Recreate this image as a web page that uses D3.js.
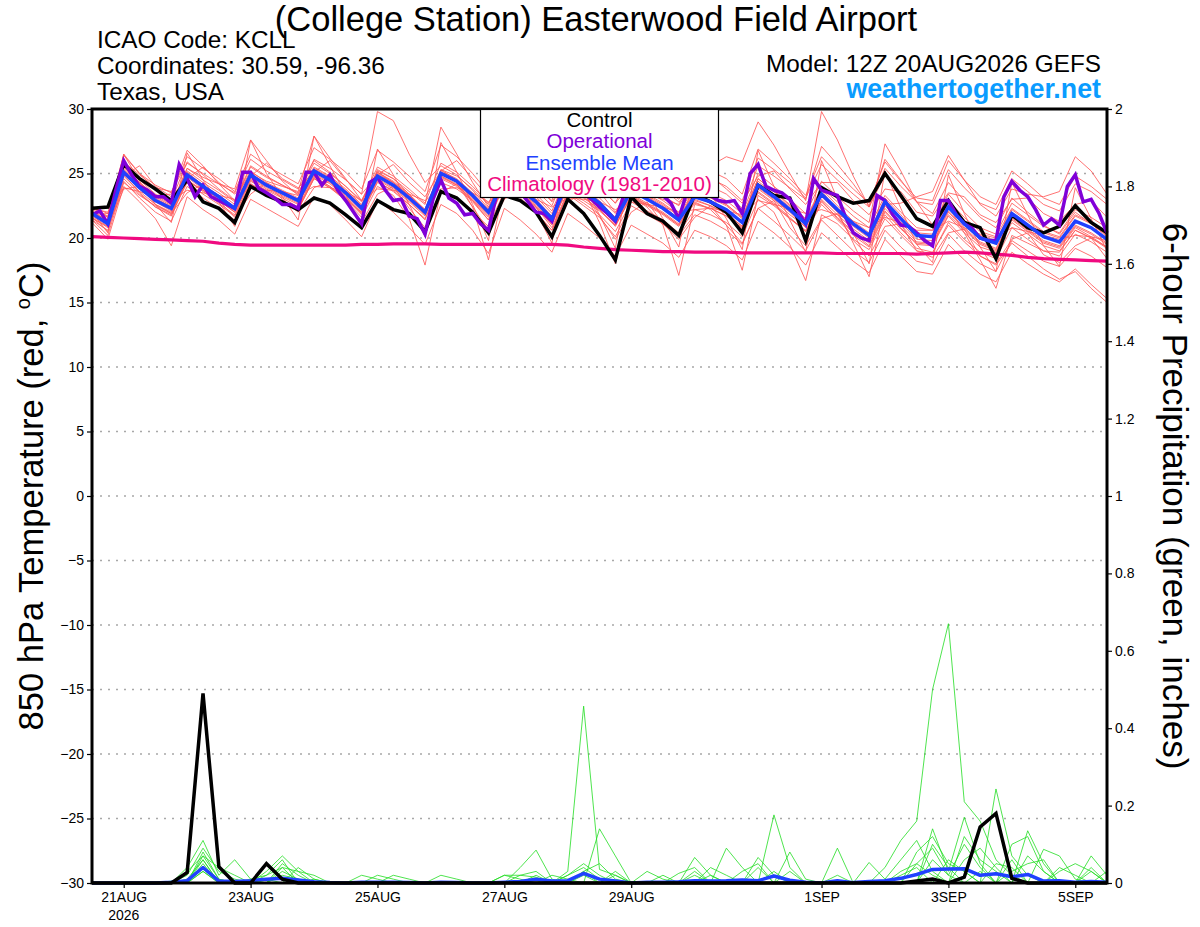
<!DOCTYPE html>
<html>
<head>
<meta charset="utf-8">
<script src="https://cdn.jsdelivr.net/npm/d3@7"></script>
<style>
  body { margin: 0; background: #fff; }
  text { font-family: "Liberation Sans", Arial, Helvetica, sans-serif; }
</style>
</head>
<body>
<svg width="1200" height="927"></svg>
<script>
// Model run start (12Z 20AUG2026), ensemble is 6-hourly, operational 3-hourly
var runTime = Date.UTC(2026, 7, 20, 12);
var ensHours = d3.range(0, 385, 6);
var opHours = d3.range(0, 385, 3);

// X tick dates and labels
var dayTicks = ["2026-08-21", "2026-08-23", "2026-08-25", "2026-08-27", "2026-08-29", "2026-09-01", "2026-09-03", "2026-09-05"];
var dayLabels = ["21AUG", "23AUG", "25AUG", "27AUG", "29AUG", "1SEP", "3SEP", "5SEP"];

// Y tick values
var tempTicks = [-30, -25, -20, -15, -10, -5, 0, 5, 10, 15, 20, 25, 30];
var precipTicks = [0, 0.2, 0.4, 0.6, 0.8, 1, 1.2, 1.4, 1.6, 1.8, 2];
var precipLabels = ["0", "0.2", "0.4", "0.6", "0.8", "1", "1.2", "1.4", "1.6", "1.8", "2"];

// 850 hPa temperature (C)
var control = [22.3, 22.4, 25.7, 24.6, 23.8, 22.9, 24.5, 22.8, 22.3, 21.2,
  24.0, 23.3, 22.8, 22.2, 23.1, 22.7, 21.8, 20.8, 22.9, 22.2,
  21.9, 20.5, 23.6, 23.1, 22.0, 20.4, 23.3, 22.9, 22.0, 20.1,
  23.0, 21.9, 20.2, 18.3, 23.2, 21.9, 21.3, 20.2, 23.4, 22.8,
  22.0, 20.4, 24.1, 23.3, 23.1, 19.8, 23.9, 23.2, 22.7, 22.9,
  25.0, 23.3, 21.5, 20.9, 22.9, 21.2, 20.8, 18.4, 21.8, 20.8,
  20.4, 20.9, 22.5, 21.2, 20.4];

var ensMean = [21.9, 21.1, 25.1, 23.9, 22.9, 22.3, 24.9, 24.0, 23.2, 22.3,
  24.9, 24.1, 23.5, 22.9, 25.2, 24.5, 23.5, 22.3, 24.8, 24.1,
  23.1, 22.0, 25.0, 24.4, 23.3, 22.0, 24.6, 23.8, 22.8, 21.5,
  24.4, 23.6, 22.7, 21.4, 23.7, 23.0, 22.3, 21.4, 23.2, 22.8,
  22.2, 21.2, 24.1, 23.2, 22.2, 21.1, 23.4, 22.2, 21.1, 20.2,
  22.8, 21.5, 20.2, 20.1, 22.4, 21.1, 20.0, 19.6, 21.9, 21.0,
  20.1, 19.7, 21.3, 20.8, 19.9];

var climatology = [20.1, 20.05, 20.0, 19.95, 19.9, 19.85, 19.8, 19.75, 19.6, 19.5,
  19.45, 19.45, 19.45, 19.45, 19.45, 19.45, 19.45, 19.5, 19.5, 19.55,
  19.55, 19.55, 19.5, 19.5, 19.5, 19.5, 19.5, 19.5, 19.5, 19.5,
  19.45, 19.3, 19.2, 19.1, 19.05, 19.0, 18.95, 18.95, 18.9, 18.9,
  18.9, 18.85, 18.85, 18.85, 18.85, 18.85, 18.85, 18.8, 18.8, 18.8,
  18.8, 18.8, 18.75, 18.8, 18.85, 18.9, 18.85, 18.75, 18.65, 18.5,
  18.4, 18.35, 18.3, 18.25, 18.2];

// operational run, 3-hourly
var operational = [21.8, 22.1, 21.1, 23.7, 26.0, 24.9, 24.0, 23.7, 23.2, 23.2,
  22.7, 25.7, 24.6, 23.2, 24.1, 23.2, 22.9, 22.6, 22.3, 25.1,
  25.1, 23.85, 23.5, 23.1, 22.6, 22.6, 22.3, 25.1, 25.1, 24.1,
  24.9, 23.7, 22.9, 22.0, 21.1, 24.3, 24.7, 23.7, 22.9, 23.0,
  21.7, 21.5, 20.3, 23.0, 24.5, 23.1, 22.7, 21.8, 21.9, 21.1,
  20.6, 23.3, 24.6, 24.2, 23.6, 22.8, 22.0, 21.9, 21.3, 23.2,
  24.3, 24.0, 23.5, 23.0, 22.4, 21.9, 21.3, 23.2, 24.5, 24.2,
  23.8, 23.5, 23.3, 22.7, 21.5, 23.5, 24.0, 23.6, 23.3, 22.9,
  22.8, 22.9, 21.9, 25.0, 25.7, 24.0, 23.7, 23.5, 23.0, 22.1,
  21.1, 24.6, 23.7, 23.5, 23.3, 21.65, 20.4, 20.0, 19.8, 23.3,
  22.9, 21.8, 21.0, 20.9, 20.4, 19.8, 19.4, 22.9, 22.9, 21.8,
  21.1, 20.75, 20.0, 19.8, 19.8, 23.2, 24.4, 23.7, 23.2, 22.2,
  21.0, 21.5, 21.0, 24.0, 24.9, 22.8, 23.0, 21.9, 20.4];

// ensemble members, 850 hPa temperature (one row per day, 00Z..18Z)
var member01 = [22.4, 21.9,
  26.4, 25.0, 24.1, 23.5, 26.3, 25.4, 24.6, 23.6, 26.5, 25.6, 24.9, 24.2, 27.0, 26.1, 25.1, 23.8,
  26.8, 25.9, 24.8, 23.6, 27.2, 26.3, 25.0, 23.5, 26.8, 25.9, 24.7, 23.2, 26.6, 25.7, 24.6, 23.1,
  26.0, 25.2, 24.5, 23.4, 25.8, 25.2, 24.6, 23.4, 26.9, 25.8, 24.6, 23.3, 26.3, 25.0, 23.8, 22.7,
  25.9, 24.4, 23.1, 22.9, 26.0, 24.5, 23.2, 22.6, 25.2, 24.2, 23.1, 22.6, 24.8, 24.0, 23.0];
var member02 = [21.2, 19.9,
  24.0, 22.8, 21.5, 19.4, 23.2, 22.2, 21.4, 20.3, 23.0, 22.3, 21.6, 20.9, 23.2, 22.6, 21.4, 20.1,
  22.9, 22.0, 20.8, 19.5, 22.6, 21.9, 20.6, 18.8, 22.3, 21.4, 20.3, 18.9, 21.9, 21.0, 20.0, 18.6,
  21.0, 20.3, 19.6, 18.5, 20.6, 20.1, 19.4, 18.3, 21.3, 20.4, 19.3, 17.9, 20.4, 19.3, 18.2, 17.3,
  19.9, 18.6, 17.4, 17.2, 19.5, 18.3, 17.2, 16.6, 18.9, 18.0, 17.2, 16.6, 17.6, 16.4, 15.3];
var member03 = [22.5, 21.6,
  25.9, 24.9, 23.9, 23.6, 25.8, 25.0, 24.2, 23.5, 26.1, 25.2, 24.5, 23.8, 26.0, 25.1, 24.0, 22.8,
  25.1, 24.3, 23.2, 21.9, 24.8, 24.1, 22.9, 21.4, 24.0, 23.1, 22.0, 20.6, 23.4, 22.5, 21.6, 20.1,
  22.5, 21.8, 21.1, 20.2, 21.8, 21.3, 20.6, 19.5, 22.3, 21.3, 20.2, 19.0, 21.4, 20.2, 19.0, 18.1,
  20.6, 19.3, 18.2, 17.9, 20.3, 19.0, 18.0, 17.4, 19.8, 19.0, 18.2, 17.8, 19.2, 18.6, 17.7];
var member04 = [21.4, 20.6,
  24.4, 23.1, 22.0, 21.3, 24.0, 23.1, 22.3, 21.4, 24.2, 23.5, 22.8, 22.2, 24.6, 23.9, 23.0, 22.0,
  24.7, 24.1, 23.2, 22.2, 25.3, 24.8, 23.8, 22.6, 25.4, 24.7, 23.7, 22.5, 25.5, 24.8, 23.9, 22.7,
  25.2, 24.6, 23.9, 23.0, 25.0, 24.6, 24.0, 22.9, 26.2, 25.3, 24.3, 23.1, 25.7, 24.5, 23.4, 22.4,
  25.4, 24.0, 22.8, 22.6, 25.3, 23.9, 22.7, 22.2, 24.6, 23.6, 22.6, 22.1, 24.2, 23.6, 22.6];
var member05 = [22.0, 20.4,
  26.5, 24.4, 22.6, 21.2, 26.6, 24.5, 22.8, 20.9, 27.6, 25.0, 23.2, 21.4, 27.9, 25.6, 23.4, 20.8,
  26.9, 24.9, 22.6, 20.1, 27.4, 25.1, 22.6, 19.8, 26.8, 24.5, 22.0, 19.6, 26.5, 24.1, 21.8, 19.2,
  25.9, 23.6, 21.5, 19.3, 25.4, 23.4, 21.5, 19.1, 26.8, 24.0, 21.4, 18.9, 26.0, 23.0, 20.4, 18.0,
  25.2, 22.3, 19.5, 18.1, 24.9, 21.9, 19.3, 17.4, 24.3, 21.8, 19.4, 17.8, 23.9, 21.5, 19.0];
var member06 = [21.8, 21.9,
  23.9, 23.6, 23.2, 22.9, 23.7, 23.5, 23.3, 23.0, 23.9, 23.7, 23.6, 23.3, 24.0, 23.9, 23.6, 22.9,
  23.8, 23.7, 23.4, 22.9, 23.8, 23.9, 23.5, 22.8, 23.6, 23.3, 23.0, 22.4, 23.1, 23.0, 22.8, 22.2,
  22.8, 22.6, 22.4, 22.0, 22.2, 22.3, 22.1, 21.8, 22.9, 22.6, 22.3, 21.9, 22.2, 21.8, 21.3, 20.8,
  21.6, 21.2, 20.6, 20.6, 21.3, 20.8, 20.3, 20.0, 20.8, 20.5, 20.2, 19.9, 20.2, 20.1, 19.8];
var member07 = [21.9, 21.3,
  25.6, 24.3, 23.3, 22.6, 25.4, 24.5, 23.7, 22.8, 25.5, 24.7, 24.1, 23.4, 26.1, 25.4, 24.5, 23.4,
  29.8, 29.1, 26.5, 24.3, 25.6, 24.9, 23.7, 22.3, 24.9, 24.0, 22.9, 21.5, 24.7, 23.8, 22.9, 21.5,
  23.9, 23.2, 22.5, 21.5, 23.6, 23.2, 22.6, 21.6, 24.6, 23.6, 22.5, 21.4, 23.8, 22.5, 21.3, 20.4,
  23.1, 21.8, 20.4, 20.3, 22.8, 21.4, 20.2, 19.8, 22.2, 21.3, 20.4, 20.0, 21.7, 21.1, 20.2];
var member08 = [21.6, 20.8,
  24.8, 23.6, 22.6, 22.0, 24.5, 23.7, 22.9, 22.0, 24.6, 23.8, 23.2, 22.6, 24.9, 24.2, 23.2, 22.0,
  24.5, 23.8, 22.8, 21.7, 24.7, 24.1, 23.0, 21.7, 24.3, 23.5, 22.5, 21.2, 24.1, 23.3, 22.4, 21.1,
  23.9, 23.4, 23.0, 22.6, 25.0, 25.6, 26.3, 25.9, 29.0, 27.2, 25.0, 22.9, 29.8, 27.6, 24.8, 22.4,
  24.9, 23.1, 21.4, 20.9, 23.4, 22.0, 20.8, 20.3, 22.7, 21.8, 20.9, 20.4, 22.2, 21.6, 20.8];
var member09 = [21.8, 21.1,
  25.3, 24.1, 23.1, 22.4, 25.4, 24.7, 24.2, 23.8, 27.6, 26.0, 24.4, 23.3, 25.5, 24.8, 23.8, 22.6,
  25.2, 24.6, 23.6, 22.6, 28.6, 26.5, 24.3, 22.4, 25.0, 24.2, 23.2, 21.9, 24.6, 23.7, 21.2, 18.0,
  23.2, 22.6, 21.9, 21.0, 22.8, 22.2, 21.0, 17.5, 23.3, 22.5, 21.5, 20.6, 23.0, 21.8, 20.7, 19.8,
  22.3, 21.0, 19.7, 19.6, 22.0, 20.7, 19.6, 19.1, 21.5, 20.6, 19.7, 19.3, 20.9, 20.3, 19.5];
var member10 = [21.6, 20.5,
  24.6, 23.4, 22.4, 21.8, 24.3, 23.4, 22.6, 21.7, 24.2, 23.4, 22.8, 22.2, 24.6, 23.9, 22.9, 21.6,
  24.0, 23.3, 21.5, 17.9, 23.6, 23.2, 22.0, 20.9, 23.6, 22.9, 21.9, 20.6, 23.5, 22.7, 21.8, 20.5,
  22.8, 22.1, 21.4, 20.4, 22.2, 21.8, 21.2, 20.1, 23.0, 22.0, 19.5, 16.7, 21.8, 21.1, 19.9, 19.1,
  21.5, 20.2, 19.0, 18.8, 21.2, 19.9, 18.9, 18.4, 20.8, 19.9, 19.0, 18.6, 20.3, 19.7, 18.9];
var member11 = [22.0, 21.2,
  25.4, 24.2, 23.2, 22.5, 25.2, 24.3, 23.5, 22.6, 25.1, 24.4, 24.0, 23.6, 27.9, 26.2, 24.6, 22.9,
  25.1, 24.4, 23.4, 22.2, 25.3, 24.5, 22.4, 18.3, 24.0, 23.4, 22.4, 21.0, 24.0, 23.2, 22.2, 21.0,
  23.2, 22.4, 21.0, 17.1, 22.6, 22.3, 21.7, 20.8, 23.8, 22.9, 21.8, 20.9, 23.2, 22.0, 20.9, 20.0,
  22.5, 21.2, 19.9, 19.8, 22.1, 20.8, 19.7, 19.2, 21.6, 20.7, 19.8, 19.4, 21.0, 20.4, 19.6];
var member12 = [22.2, 21.6,
  25.8, 24.5, 23.4, 22.7, 25.1, 24.1, 23.3, 22.4, 25.0, 24.2, 23.6, 23.0, 25.4, 24.7, 23.7, 22.5,
  25.0, 24.3, 23.3, 22.2, 25.2, 24.6, 23.5, 22.2, 24.8, 24.0, 23.0, 21.7, 24.6, 23.8, 22.8, 21.6,
  24.0, 23.3, 22.6, 21.7, 23.5, 23.1, 22.5, 21.5, 24.4, 23.4, 22.4, 21.3, 23.7, 22.1, 19.6, 17.0,
  22.6, 22.7, 23.2, 23.6, 26.4, 24.5, 22.6, 21.7, 23.8, 23.4, 23.2, 23.6, 26.3, 25.2, 23.4];
var member13 = [22.3, 21.7,
  26.5, 25.0, 23.8, 22.9, 25.9, 24.9, 23.8, 22.9, 25.6, 24.8, 24.1, 23.5, 25.8, 25.0, 24.0, 22.9,
  25.5, 24.8, 23.8, 22.7, 25.8, 25.1, 24.0, 22.7, 25.2, 24.4, 23.4, 22.1, 25.0, 24.1, 23.1, 21.9,
  24.3, 23.6, 22.9, 22.0, 23.9, 23.5, 22.9, 21.9, 25.0, 24.0, 23.0, 21.9, 24.4, 23.2, 22.1, 21.2,
  27.3, 25.2, 22.8, 21.0, 22.5, 20.4, 18.3, 16.1, 20.2, 19.6, 19.0, 18.9, 20.6, 20.0, 19.3];
var member14 = [22.0, 21.4,
  25.5, 24.3, 23.3, 23.4, 26.8, 25.6, 24.2, 22.9, 25.2, 24.3, 23.7, 23.1, 25.3, 24.6, 23.6, 22.4,
  24.9, 24.3, 23.3, 22.0, 25.1, 24.5, 23.4, 22.1, 25.8, 25.0, 24.0, 22.9, 26.5, 25.2, 23.6, 22.0,
  24.1, 23.4, 22.7, 21.8, 23.7, 23.2, 22.6, 21.6, 24.6, 23.6, 22.6, 21.5, 23.9, 22.8, 21.7, 20.8,
  23.3, 22.0, 20.8, 20.6, 22.9, 21.6, 20.5, 20.1, 22.3, 21.4, 20.5, 20.1, 21.8, 21.2, 20.4];
var member15 = [21.9, 21.0,
  25.0, 23.8, 22.8, 22.1, 24.7, 23.8, 23.0, 22.1, 24.7, 23.9, 23.3, 22.7, 25.0, 24.3, 23.3, 22.1,
  24.6, 23.9, 22.9, 21.8, 24.8, 24.2, 23.1, 21.8, 24.4, 23.6, 22.6, 21.3, 24.2, 23.4, 22.5, 21.2,
  23.4, 22.7, 22.0, 21.1, 22.9, 22.5, 21.9, 20.9, 23.6, 22.7, 21.6, 20.5, 22.6, 21.4, 20.2, 19.3,
  21.8, 20.4, 19.2, 18.9, 21.0, 19.7, 18.6, 17.9, 19.6, 18.6, 17.6, 16.8, 17.4, 16.1, 15.0];
var member16 = [21.5, 20.9,
  23.8, 24.0, 22.6, 21.9, 23.5, 24.2, 22.9, 21.6, 23.4, 24.3, 23.0, 22.0, 23.9, 24.4, 22.8, 21.2,
  23.4, 24.0, 22.3, 20.8, 23.5, 24.2, 22.4, 20.6, 23.0, 23.8, 21.9, 20.1, 22.8, 23.5, 21.7, 19.9,
  22.0, 22.8, 21.1, 19.9, 21.6, 22.5, 21.0, 19.6, 22.3, 22.9, 20.8, 19.4, 21.5, 21.9, 19.8, 18.6,
  20.9, 21.1, 19.0, 18.5, 20.4, 20.7, 18.6, 18.0, 19.9, 20.4, 18.7, 18.1, 19.4, 20.0, 18.4];
var member17 = [22.3, 22.0,
  24.8, 25.6, 24.0, 23.2, 24.6, 25.5, 24.3, 23.4, 24.8, 25.8, 24.6, 23.9, 25.1, 26.0, 24.5, 23.4,
  24.9, 25.7, 24.3, 23.2, 25.2, 26.0, 24.6, 23.2, 24.8, 25.5, 24.1, 22.8, 24.7, 25.3, 24.0, 22.7,
  24.2, 24.9, 23.8, 22.8, 23.9, 24.8, 23.8, 22.7, 24.8, 25.2, 23.8, 22.6, 24.3, 24.3, 22.9, 21.8,
  23.8, 23.6, 22.0, 21.7, 23.5, 23.2, 21.8, 21.2, 23.0, 23.1, 21.9, 21.3, 22.6, 22.9, 21.6];
var member18 = [21.7, 20.9,
  24.9, 23.5, 22.4, 21.7, 24.5, 23.6, 22.7, 21.8, 24.4, 23.7, 23.1, 22.4, 24.8, 24.0, 23.1, 21.9,
  24.4, 23.6, 22.6, 21.4, 24.6, 24.0, 22.8, 21.4, 24.2, 23.4, 22.4, 20.8, 23.6, 22.9, 22.1, 21.0,
  23.3, 22.6, 21.9, 21.0, 23.0, 22.5, 21.9, 20.9, 23.9, 23.0, 22.0, 20.8, 22.9, 21.5, 20.4, 19.4,
  22.0, 20.7, 19.6, 19.5, 21.8, 20.6, 19.5, 19.0, 21.4, 20.5, 19.6, 19.2, 20.8, 20.1, 19.3];
var member19 = [22.1, 21.3,
  25.2, 24.0, 23.0, 22.4, 25.0, 24.1, 23.3, 22.4, 25.0, 24.2, 23.6, 23.0, 25.3, 24.6, 23.6, 22.4,
  25.3, 24.6, 23.4, 22.0, 25.1, 24.5, 23.4, 22.1, 24.7, 23.9, 22.9, 21.6, 24.5, 23.7, 22.8, 21.6,
  24.2, 23.8, 23.3, 22.5, 24.4, 24.0, 23.4, 22.3, 25.6, 24.8, 23.9, 23.0, 27.1, 25.7, 24.2, 22.5,
  26.1, 24.5, 22.8, 21.9, 24.3, 22.9, 21.6, 20.8, 23.1, 22.0, 21.0, 20.3, 22.0, 21.1, 20.1];
var member20 = [21.4, 20.2,
  24.3, 23.3, 22.5, 21.9, 24.4, 23.7, 22.9, 22.0, 24.5, 23.6, 22.9, 22.3, 24.7, 24.0, 23.0, 21.8,
  24.3, 23.7, 22.6, 21.5, 24.3, 23.8, 22.9, 21.6, 24.1, 23.3, 22.3, 21.1, 23.9, 23.1, 22.2, 20.9,
  23.2, 22.5, 21.8, 20.9, 22.7, 22.3, 21.7, 20.7, 23.5, 22.6, 21.5, 20.5, 22.8, 21.6, 20.5, 19.6,
  22.1, 20.8, 19.5, 19.4, 21.7, 20.4, 19.3, 18.9, 21.2, 20.3, 19.4, 19.0, 20.6, 20.0, 19.2];
var tempMembers = [member01, member02, member03, member04, member05, member06, member07, member08, member09, member10,
  member11, member12, member13, member14, member15, member16, member17, member18, member19, member20];

// 6-hour precipitation (inches)
var precipControl = [0, 0, 0, 0, 0, 0, 0.027, 0.49, 0.042, 0,
  0, 0.05, 0.01, 0, 0, 0, 0, 0, 0, 0,
  0, 0, 0, 0, 0, 0, 0, 0, 0, 0,
  0, 0, 0, 0, 0, 0, 0, 0, 0, 0,
  0, 0, 0, 0, 0, 0, 0, 0, 0, 0,
  0, 0, 0.005, 0.01, 0, 0.015, 0.145, 0.18, 0.012, 0,
  0, 0, 0, 0, 0];
var precipMean = [0, 0, 0, 0, 0, 0.002, 0.006, 0.04, 0.005, 0.004,
  0.006, 0.01, 0.012, 0.008, 0.003, 0.001, 0, 0.002, 0.002, 0.002,
  0.001, 0, 0.002, 0.001, 0, 0, 0.002, 0.004, 0.01, 0.005,
  0.006, 0.025, 0.01, 0.005, 0, 0.002, 0.002, 0.003, 0.006, 0.005,
  0.006, 0.008, 0.006, 0.018, 0.007, 0.002, 0, 0.006, 0.001, 0.004,
  0.006, 0.012, 0.022, 0.035, 0.036, 0.037, 0.02, 0.024, 0.016, 0.022,
  0.005, 0.006, 0.002, 0.004, 0.002];
var pmember01 = [0, 0, 0, 0, 0, 0, 0, 0.03, 0, 0,
  0, 0, 0, 0, 0, 0, 0, 0, 0, 0,
  0, 0, 0, 0, 0, 0, 0, 0, 0, 0,
  0, 0.02, 0, 0, 0, 0, 0, 0, 0, 0,
  0, 0, 0, 0, 0, 0, 0, 0, 0, 0,
  0.04, 0.11, 0.16, 0.5, 0.67, 0.21, 0.16, 0.06, 0.02, 0,
  0, 0, 0, 0, 0];
var pmember02 = [0, 0, 0, 0, 0, 0, 0, 0.05, 0, 0,
  0, 0.02, 0.04, 0, 0, 0, 0, 0, 0, 0,
  0, 0, 0, 0, 0, 0, 0, 0, 0.01, 0,
  0.03, 0.457, 0.035, 0.02, 0, 0, 0, 0, 0.02, 0,
  0, 0, 0, 0.176, 0.04, 0, 0, 0, 0, 0,
  0, 0, 0, 0, 0, 0, 0, 0.243, 0.07, 0.02,
  0, 0, 0, 0, 0];
var pmember03 = [0, 0, 0, 0, 0, 0, 0.04, 0.11, 0.02, 0.06,
  0.01, 0, 0, 0.04, 0.01, 0, 0, 0, 0, 0,
  0, 0, 0, 0, 0, 0, 0, 0.04, 0.085, 0.01,
  0, 0, 0.14, 0.07, 0, 0, 0, 0, 0, 0,
  0.09, 0.04, 0, 0, 0, 0, 0, 0, 0, 0,
  0, 0, 0, 0.14, 0.03, 0.17, 0.05, 0, 0, 0.135,
  0.05, 0, 0, 0, 0];
var pmember04 = [0, 0, 0, 0, 0, 0, 0, 0.08, 0.01, 0,
  0, 0.03, 0.07, 0.03, 0, 0, 0, 0, 0.02, 0.01,
  0, 0, 0, 0, 0, 0, 0, 0, 0, 0,
  0.02, 0.04, 0.01, 0, 0, 0, 0, 0, 0.066, 0.02,
  0, 0, 0.066, 0.02, 0, 0, 0, 0, 0, 0,
  0, 0, 0.05, 0.09, 0.02, 0.1, 0.04, 0, 0, 0,
  0.087, 0.07, 0.01, 0, 0];
var pmember05 = [0, 0, 0, 0, 0, 0, 0.03, 0.07, 0.01, 0,
  0, 0, 0.05, 0.02, 0, 0, 0, 0, 0, 0,
  0, 0, 0.02, 0.01, 0, 0, 0.02, 0.02, 0.03, 0,
  0, 0, 0, 0, 0, 0.03, 0.01, 0, 0, 0,
  0, 0, 0, 0, 0, 0, 0, 0.09, 0, 0,
  0, 0, 0, 0.06, 0.02, 0, 0, 0, 0.1, 0.12,
  0.03, 0, 0, 0.07, 0.02];
var pmember06 = [0, 0, 0, 0, 0, 0, 0, 0.06, 0, 0,
  0.01, 0.02, 0.06, 0, 0, 0, 0, 0.02, 0.01, 0,
  0, 0, 0, 0, 0, 0, 0, 0, 0, 0.02,
  0.01, 0, 0, 0, 0, 0, 0, 0.025, 0.04, 0,
  0, 0.03, 0.05, 0, 0.08, 0.01, 0, 0, 0, 0.053,
  0.01, 0.06, 0.11, 0.03, 0, 0.06, 0.09, 0.04, 0, 0,
  0, 0.03, 0.05, 0.03, 0];
var pmember07 = [0, 0, 0, 0, 0, 0.005, 0, 0.03, 0, 0,
  0, 0, 0.02, 0.01, 0, 0, 0, 0, 0, 0.02,
  0.01, 0, 0, 0, 0, 0, 0, 0, 0.02, 0,
  0, 0, 0, 0.03, 0, 0, 0, 0, 0, 0.04,
  0.02, 0, 0, 0, 0, 0, 0, 0, 0, 0,
  0, 0.03, 0.05, 0.02, 0, 0, 0, 0.05, 0.04, 0,
  0, 0, 0, 0.04, 0];
var pmember08 = [0, 0, 0, 0, 0, 0, 0, 0.04, 0, 0,
  0, 0, 0, 0, 0.01, 0, 0, 0, 0, 0,
  0, 0, 0, 0, 0, 0, 0.02, 0.01, 0, 0,
  0, 0.03, 0, 0, 0, 0, 0.02, 0, 0, 0,
  0, 0, 0, 0, 0, 0, 0, 0, 0, 0,
  0, 0, 0, 0, 0.06, 0.03, 0, 0, 0, 0.07,
  0.03, 0, 0, 0, 0.03];
var pmember09 = [0, 0, 0, 0, 0, 0, 0.02, 0.09, 0.03, 0.01,
  0, 0, 0.03, 0.01, 0, 0, 0, 0, 0, 0,
  0, 0, 0, 0, 0, 0, 0, 0, 0, 0,
  0.02, 0.05, 0.02, 0, 0, 0, 0, 0, 0.03, 0,
  0, 0, 0.04, 0, 0, 0, 0, 0, 0, 0,
  0, 0, 0.08, 0.12, 0.05, 0.03, 0, 0, 0.03, 0.05,
  0.06, 0, 0, 0, 0];
var pmember10 = [0, 0, 0, 0, 0, 0, 0, 0.07, 0.04, 0.02,
  0, 0.01, 0, 0, 0, 0, 0, 0, 0, 0,
  0, 0, 0, 0, 0, 0, 0, 0.02, 0.015, 0,
  0, 0, 0, 0.02, 0, 0, 0, 0, 0, 0,
  0, 0, 0, 0.03, 0, 0, 0, 0.02, 0, 0,
  0, 0, 0, 0.1, 0.04, 0, 0.03, 0, 0.06, 0,
  0, 0.04, 0.02, 0, 0];
var pmember11 = [0, 0, 0, 0, 0, 0, 0.01, 0.06, 0, 0,
  0, 0, 0.04, 0.03, 0.02, 0, 0, 0, 0, 0,
  0, 0, 0, 0, 0, 0, 0, 0, 0, 0,
  0, 0.03, 0.05, 0.01, 0, 0, 0, 0, 0, 0.02,
  0, 0, 0, 0, 0.03, 0, 0, 0, 0, 0,
  0, 0.02, 0.04, 0, 0, 0.12, 0.06, 0.03, 0, 0,
  0, 0, 0, 0.03, 0];
var precipMembers = [pmember01, pmember02, pmember03, pmember04, pmember05, pmember06,
  pmember07, pmember08, pmember09, pmember10, pmember11];

// Margin, width, and height
var margin = { top: 109, right: 93, bottom: 44, left: 92 };
var width = 1200 - margin.left - margin.right;
var height = 927 - margin.top - margin.bottom;

var ensTimes = ensHours.map(function(h) { return new Date(runTime + h * 3600000); });
var opTimes = opHours.map(function(h) { return new Date(runTime + h * 3600000); });

var xScale = d3.scaleUtc()
  .domain([ensTimes[0], ensTimes[ensTimes.length - 1]])
  .range([0, width]);
var yTemp = d3.scaleLinear().domain([-30, 30]).range([height, 0]);
var yPrecip = d3.scaleLinear().domain([0, 2]).range([height, 0]);

var svgRoot = d3.select("svg");
var svg = svgRoot.append("g")
  .attr("transform", "translate(" + margin.left + "," + margin.top + ")");

// Gridlines (dotted, at temperature ticks)
svg.append("g")
  .attr("class", "grid")
  .selectAll("line")
  .data(tempTicks.slice(1, -1))
  .enter()
  .append("line")
  .attr("x1", 0)
  .attr("x2", width)
  .attr("y1", function(d) { return yTemp(d); })
  .attr("y2", function(d) { return yTemp(d); })
  .attr("stroke", "#a8a8a8")
  .attr("stroke-width", 1.5)
  .attr("stroke-dasharray", "2,6");

var tempLine = d3.line()
  .x(function(d, i) { return xScale(ensTimes[i]); })
  .y(function(d) { return yTemp(d); });
var opLine = d3.line()
  .x(function(d, i) { return xScale(opTimes[i]); })
  .y(function(d) { return yTemp(d); });
var precipLine = d3.line()
  .x(function(d, i) { return xScale(ensTimes[i]); })
  .y(function(d) { return yPrecip(d); });

// Ensemble members (thin red)
svg.append("g")
  .selectAll("path")
  .data(tempMembers)
  .enter()
  .append("path")
  .attr("d", tempLine)
  .attr("fill", "none")
  .attr("stroke", "#ff5a5a")
  .attr("stroke-width", 0.85);

// Precip members (thin green)
svg.append("g")
  .selectAll("path")
  .data(precipMembers)
  .enter()
  .append("path")
  .attr("d", precipLine)
  .attr("fill", "none")
  .attr("stroke", "#22dd22")
  .attr("stroke-width", 0.8);

svg.append("path")
  .attr("d", precipLine(precipMean))
  .attr("fill", "none")
  .attr("stroke", "#2040ff")
  .attr("stroke-width", 3.5)
  .attr("stroke-linejoin", "round");

svg.append("path")
  .attr("d", precipLine(precipControl))
  .attr("fill", "none")
  .attr("stroke", "#000")
  .attr("stroke-width", 3.5);

// Climatology, control, operational, mean
svg.append("path")
  .attr("d", tempLine(climatology))
  .attr("fill", "none")
  .attr("stroke", "#f00a80")
  .attr("stroke-width", 3.2);

svg.append("path")
  .attr("d", tempLine(control))
  .attr("fill", "none")
  .attr("stroke", "#000")
  .attr("stroke-width", 3.5);

svg.append("path")
  .attr("d", opLine(operational))
  .attr("fill", "none")
  .attr("stroke", "#8000d8")
  .attr("stroke-width", 3.5);

svg.append("path")
  .attr("d", tempLine(ensMean))
  .attr("fill", "none")
  .attr("stroke", "#2040ff")
  .attr("stroke-width", 3.5);

// Axes
var xAxis = d3.axisBottom(xScale)
  .tickValues(dayTicks.map(function(d) { return new Date(d + "T00:00:00Z"); }))
  .tickFormat(function(d, i) { return dayLabels[i]; })
  .tickSize(5)
  .tickPadding(4)
  .tickSizeOuter(0);
var gx = svg.append("g")
  .attr("transform", "translate(0," + height + ")")
  .call(xAxis);
gx.select(".domain").remove();
gx.selectAll("text").style("font-size", "14px").style("fill", "#000");
gx.selectAll("line").attr("stroke-width", 1.2);

// year under the first date
svg.append("text")
  .attr("x", xScale(new Date(dayTicks[0] + "T00:00:00Z")))
  .attr("y", height + 37)
  .attr("text-anchor", "middle")
  .style("font-size", "14px")
  .text("2026");

var gy = svg.append("g")
  .call(d3.axisLeft(yTemp).tickValues(tempTicks).tickSize(5).tickPadding(3).tickSizeOuter(0));
gy.select(".domain").remove();
gy.selectAll("text").style("font-size", "14px").style("fill", "#000");
gy.selectAll("line").attr("stroke-width", 1.2);

var gy2 = svg.append("g")
  .attr("transform", "translate(" + width + ",0)")
  .call(d3.axisRight(yPrecip).tickValues(precipTicks)
    .tickFormat(function(d, i) { return precipLabels[i]; })
    .tickSize(5).tickPadding(3).tickSizeOuter(0));
gy2.select(".domain").remove();
gy2.selectAll("text").style("font-size", "14px").style("fill", "#000");
gy2.selectAll("line").attr("stroke-width", 1.2);

// Frame
svg.append("rect")
  .attr("x", 0)
  .attr("y", 0)
  .attr("width", width)
  .attr("height", height)
  .attr("fill", "none")
  .attr("stroke", "#000")
  .attr("stroke-width", 3);

// Legend box
var legendItems = ["Control", "Operational", "Ensemble Mean", "Climatology (1981-2010)"];
var legendColors = ["#000", "#8000d8", "#2040ff", "#f00a80"];
var legend = svgRoot.append("g");
legend.append("rect")
  .attr("x", 480.5)
  .attr("y", 109.5)
  .attr("width", 238)
  .attr("height", 88)
  .attr("fill", "#fff")
  .attr("stroke", "#000")
  .attr("stroke-width", 1.2);
legend.selectAll("text")
  .data(legendItems)
  .enter()
  .append("text")
  .attr("x", 599.5)
  .attr("y", function(d, i) { return 127 + i * 21.4; })
  .attr("text-anchor", "middle")
  .style("font-size", "20.5px")
  .style("fill", function(d, i) { return legendColors[i]; })
  .text(function(d) { return d; });

// Titles and header text
svgRoot.append("text")
  .attr("x", 596)
  .attr("y", 31)
  .attr("text-anchor", "middle")
  .style("font-size", "34.5px")
  .text("(College Station) Easterwood Field Airport");

var headerLeft = ["ICAO Code: KCLL", "Coordinates: 30.59, -96.36", "Texas, USA"];
svgRoot.selectAll(".hdr")
  .data(headerLeft)
  .enter()
  .append("text")
  .attr("class", "hdr")
  .attr("x", 97)
  .attr("y", function(d, i) { return 47.5 + i * 26.3; })
  .style("font-size", "24.3px")
  .text(function(d) { return d; });

svgRoot.append("text")
  .attr("x", 1101)
  .attr("y", 72)
  .attr("text-anchor", "end")
  .style("font-size", "24.3px")
  .text("Model: 12Z 20AUG2026 GEFS");

svgRoot.append("text")
  .attr("x", 1101)
  .attr("y", 98)
  .attr("text-anchor", "end")
  .style("font-size", "26.8px")
  .style("font-weight", "bold")
  .style("fill", "#0a9cff")
  .text("weathertogether.net");

// Axis titles
var leftTitle = svgRoot.append("text")
  .attr("transform", "translate(43," + (margin.top + height / 2) + ") rotate(-90)")
  .attr("text-anchor", "middle")
  .style("font-size", "34.5px");
leftTitle.append("tspan").text("850 hPa Temperature (red, ");
leftTitle.append("tspan").attr("dy", -13).style("font-size", "20px").text("o");
leftTitle.append("tspan").attr("dy", 13).text("C)");

svgRoot.append("text")
  .attr("transform", "translate(1163," + (margin.top + height / 2) + ") rotate(90)")
  .attr("text-anchor", "middle")
  .style("font-size", "35px")
  .text("6-hour Precipitation (green, inches)");
</script>
</body>
</html>
